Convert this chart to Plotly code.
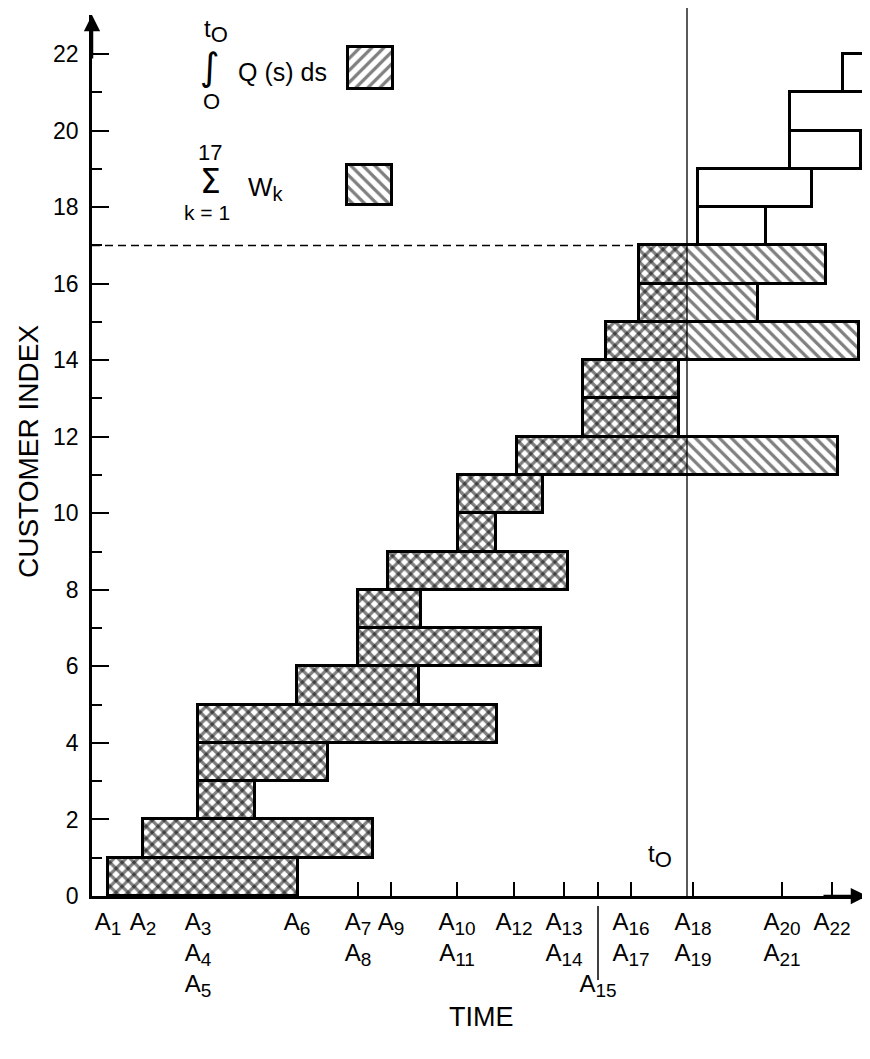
import plotly.graph_objects as go

# ---------------- data ----------------
customer = list(range(1, 23))
arrival = [1.6, 5.1, 10.6, 10.6, 10.6, 20.5, 26.6, 26.6, 29.6, 36.6, 36.6,
           42.5, 49.1, 49.1, 51.4, 54.7, 54.7, 60.6, 60.6, 69.8, 69.8, 75.1]
departure = [20.6, 28.1, 16.3, 23.6, 40.5, 32.7, 44.9, 32.9, 47.6, 40.4, 45.1,
             74.6, 58.7, 58.7, 76.7, 66.6, 73.4, 67.4, 72.0, 76.9, 84.0, 84.0]
t0 = 59.5
n_sum = 17  # customers included in the sum of waiting times

tick_times = [1.6, 5.1, 10.6, 20.5, 26.6, 29.9, 36.5, 42.2, 47.2, 50.6,
              53.9, 60.1, 69.0, 74.0]
tick_groups = [[1], [2], [3, 4, 5], [6], [7, 8], [9], [10, 11], [12],
               [13, 14], [15], [16, 17], [18, 19], [20, 21], [22]]
tick_row_offset = [0, 0, 0, 0, 0, 0, 0, 0, 0, 2, 0, 0, 0, 0]

y_ticks_major = list(range(0, 23, 2))

# ---------------- layout geometry (page pixels) ----------------
OFF = 8                      # default body margin of the html page
W, H = 870 - OFF, 1059 - OFF
PL, PR, PT, PB = 92, 870, 15, 896   # plot area in page pixels
XMAX = 77.8
YMAX = (PB - PT) / 38.27
FONT = "Liberation Sans, Arial, Helvetica, sans-serif"
HATCH = dict(fgcolor="black", size=8.5, solidity=0.38)


def fx(px):
    return (px - PL) / (PR - PL)


def fy(py):
    return (PB - py) / (PB - PT)


def sub(s, size):
    return "<sub><span style='font-size:%dpx'>%s</span></sub>" % (size, s)


fig = go.Figure()

# Sum of waiting times of customers 1..17  (backslash hatch)
sw = [i for i in range(len(customer)) if customer[i] <= n_sum]
fig.add_trace(go.Bar(
    orientation="h",
    y=[customer[i] - 0.5 for i in sw],
    base=[arrival[i] for i in sw],
    x=[departure[i] - arrival[i] for i in sw],
    width=1,
    marker=dict(color="white", line=dict(width=0),
                pattern=dict(shape="\\", bgcolor="white", **HATCH)),
    hoverinfo="skip", showlegend=False,
))

# Integral of queue length up to t0  (slash hatch, overlaid -> crosshatch)
iq = [i for i in range(len(customer)) if arrival[i] < t0]
fig.add_trace(go.Bar(
    orientation="h",
    y=[customer[i] - 0.5 for i in iq],
    base=[arrival[i] for i in iq],
    x=[min(departure[i], t0) - arrival[i] for i in iq],
    width=1,
    marker=dict(color="rgba(0,0,0,0)", line=dict(width=0),
                pattern=dict(shape="/", bgcolor="rgba(0,0,0,0)", **HATCH)),
    hoverinfo="skip", showlegend=False,
))

# Outlines of every customer's time in system
fig.add_trace(go.Bar(
    orientation="h",
    y=[c - 0.5 for c in customer],
    base=arrival,
    x=[d - a for a, d in zip(arrival, departure)],
    width=1,
    marker=dict(color="rgba(0,0,0,0)", line=dict(width=3, color="black")),
    hoverinfo="skip", showlegend=False,
))

# Legend swatches on a pixel-scaled overlay axis
fig.add_trace(go.Bar(
    orientation="h", y=[68], base=[348], x=[45], width=42,
    xaxis="x2", yaxis="y2",
    marker=dict(color="white", line=dict(width=3, color="black"),
                pattern=dict(shape="/", bgcolor="white", **HATCH)),
    hoverinfo="skip", showlegend=False,
))
fig.add_trace(go.Bar(
    orientation="h", y=[185], base=[347], x=[45], width=40,
    xaxis="x2", yaxis="y2",
    marker=dict(color="white", line=dict(width=3, color="black"),
                pattern=dict(shape="\\", bgcolor="white", **HATCH)),
    hoverinfo="skip", showlegend=False,
))

# tick labels
ticktext = []
for grp, off in zip(tick_groups, tick_row_offset):
    lines = ["&nbsp;"] * off + ["A" + sub(k, 19) for k in grp]
    ticktext.append("<br>".join(lines))

# shapes
shapes = [
    dict(type="line", xref="x", yref="paper", x0=t0, x1=t0, y0=0, y1=1.008,
         line=dict(color="black", width=1.3)),
    dict(type="line", xref="x", yref="y", x0=0, x1=arrival[n_sum - 1],
         y0=n_sum, y1=n_sum,
         line=dict(color="black", width=1.5, dash="8px,5px")),
    dict(type="line", xref="x", yref="paper",
         x0=tick_times[9], x1=tick_times[9], y0=fy(906), y1=fy(980),
         line=dict(color="black", width=1.5)),
]

ann = []


def txt(text, x, y, size, xanchor="center", yanchor="middle", family=FONT,
        angle=0):
    ann.append(dict(text=text, x=fx(x), y=fy(y), xref="paper", yref="paper",
                    showarrow=False, xanchor=xanchor, yanchor=yanchor,
                    textangle=angle,
                    font=dict(size=size, family=family, color="black")))


# legend text
txt("t" + sub("O", 22), 216, 31, 24)
txt("\u222b", 210, 67, 38, family="DejaVu Sans")
txt("O", 211, 101, 22)
txt("Q (s) ds", 236, 72, 25, xanchor="left")
txt("17", 210, 152, 22)
txt("\u03a3", 210, 182, 33, family="DejaVu Sans")
txt("k = 1", 207, 212, 21)
txt("W" + sub("k", 20), 246, 188, 26, xanchor="left")
# t0 label on time axis
txt("t" + sub("O", 22), 674, 856, 24, xanchor="right")
# axis titles
txt("TIME", 481, 1017, 27)
txt("CUSTOMER INDEX", 28, 452, 28, angle=-90)

# axis arrows
ann.append(dict(x=0, y=1, xref="paper", yref="paper", ax=0, ay=45,
                showarrow=True, arrowhead=2, arrowsize=1.3, arrowwidth=2.5,
                arrowcolor="black", text=""))
ann.append(dict(x=fx(867), y=0, xref="paper", yref="paper", ax=-45, ay=0,
                showarrow=True, arrowhead=2, arrowsize=1.3, arrowwidth=2.5,
                arrowcolor="black", text=""))

fig.update_layout(
    width=W, height=H,
    margin=dict(l=PL - OFF, r=W - (PR - OFF), t=PT - OFF, b=H - (PB - OFF),
                autoexpand=False),
    paper_bgcolor="white", plot_bgcolor="white",
    barmode="overlay", bargap=0,
    showlegend=False,
    font=dict(family=FONT, color="black"),
    xaxis=dict(range=[0, XMAX], showgrid=False, zeroline=False,
               showline=True, linewidth=2.5, linecolor="black",
               ticks="inside", ticklen=14, tickwidth=1.5, tickcolor="black",
               tickvals=tick_times, ticktext=ticktext, tickangle=0,
               tickfont=dict(size=24, family=FONT, color="black"),
               ticklabelstandoff=2, automargin=False,
               layer="below traces", fixedrange=True),
    yaxis=dict(range=[0, YMAX], showgrid=False, zeroline=False,
               showline=True, linewidth=2.5, linecolor="black",
               ticks="inside", ticklen=17, tickwidth=2, tickcolor="black",
               tickvals=y_ticks_major, automargin=False,
               tickfont=dict(size=23, family=FONT, color="black"),
               ticklabelstandoff=6,
               minor=dict(ticks="inside", ticklen=10, tickwidth=2,
                          tickcolor="black", dtick=1, tick0=0, showgrid=False),
               fixedrange=True),
    xaxis2=dict(range=[PL, PR], overlaying="x", visible=False,
                fixedrange=True, automargin=False),
    yaxis2=dict(range=[PB, PT], overlaying="y", visible=False,
                fixedrange=True, automargin=False),
    shapes=shapes,
    annotations=ann,
)

fig.write_html("out.html")
